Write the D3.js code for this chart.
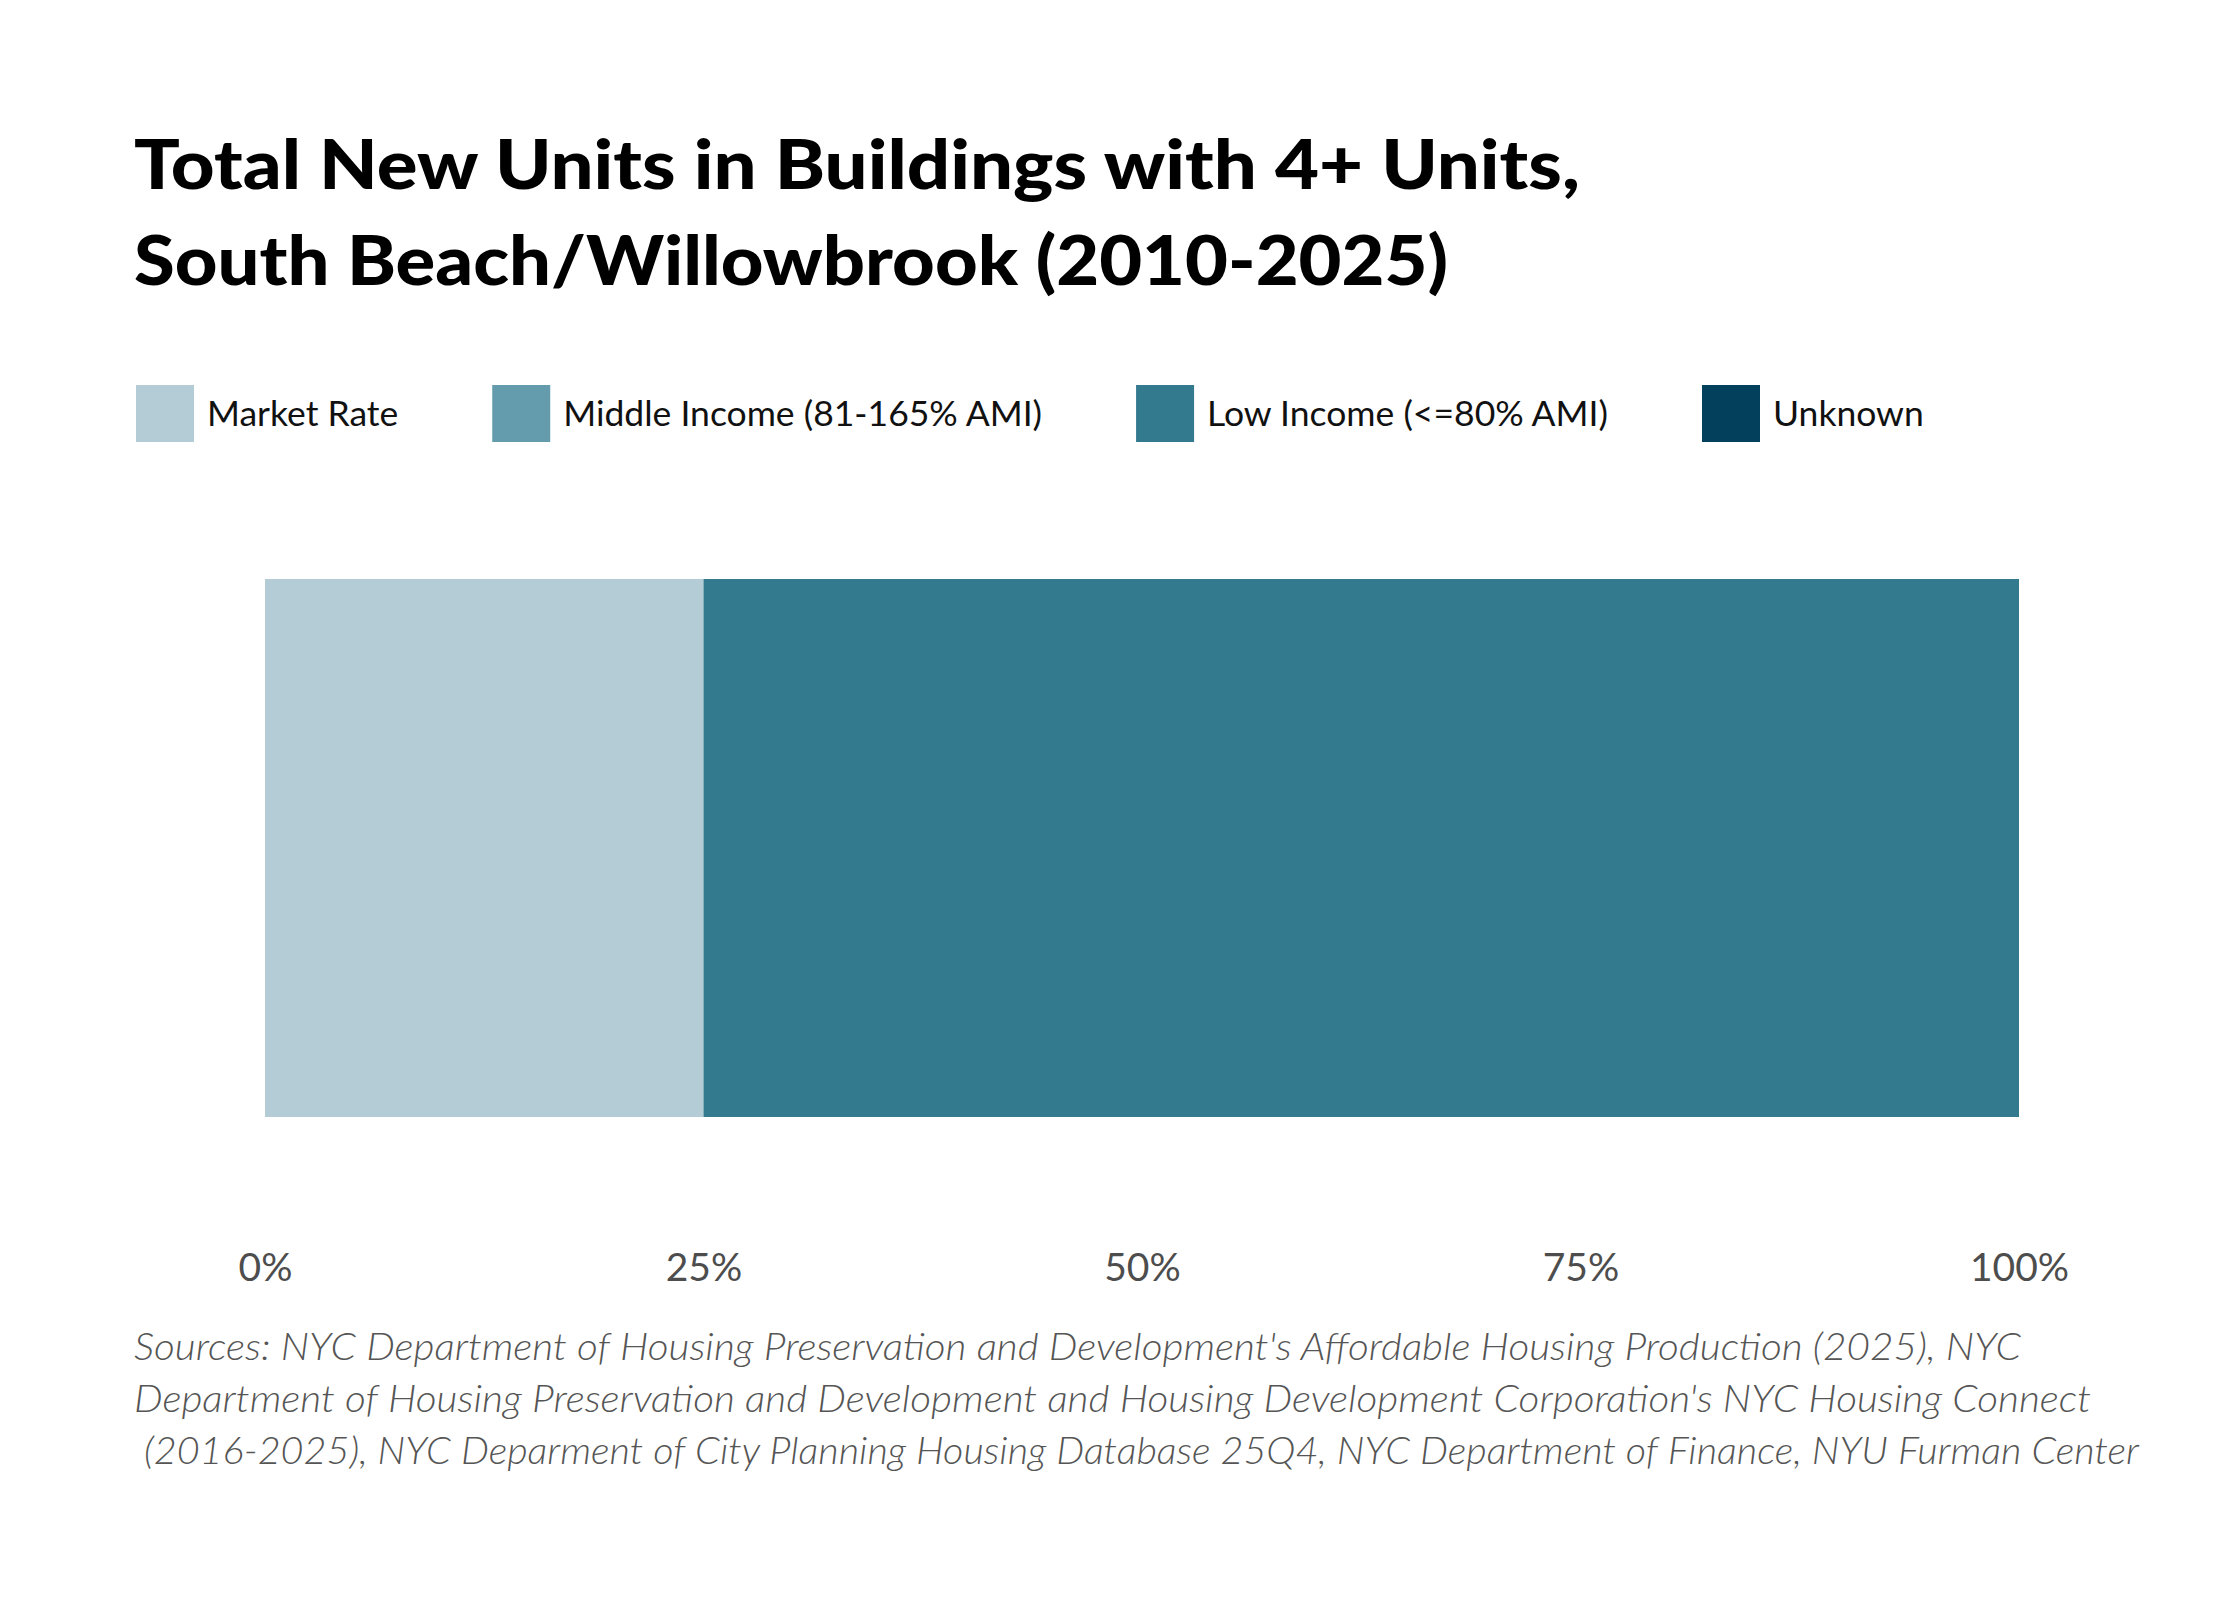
<!DOCTYPE html>
<html>
<head>
<meta charset="utf-8">
<script src="https://cdn.jsdelivr.net/npm/d3@7"></script>
<style>
  body { margin: 0; background: #fff; }
  svg { display: block; }
</style>
</head>
<body>
<div id="chart"></div>
<script>
// data
const categories = ["Market Rate", "Middle Income (81-165% AMI)", "Low Income (<=80% AMI)", "Unknown"];
const shares = [0.25, 0, 0.75, 0];
const colors = ["#b3ccd6", "#659cad", "#347a8f", "#03405c"];
const neighborhood = ["South Beach/Willowbrook"];
const tickValues = [0, 0.25, 0.5, 0.75, 1];
const titleLines = ["Total New Units in Buildings with 4+ Units,", "South Beach/Willowbrook (2010-2025)"];
const sourceLines = [
    "Sources: NYC Department of Housing Preservation and Development's Affordable Housing Production (2025), NYC",
    "Department of Housing Preservation and Development and Housing Development Corporation's NYC Housing Connect",
    " (2016-2025), NYC Deparment of City Planning Housing Database 25Q4, NYC Department of Finance, NYU Furman Center"
];

const W = 2240, H = 1600;
const margin = {top: 579, right: 221, bottom: 483, left: 265};

const svg = d3.select("#chart")
    .append("svg")
    .attr("width", W)
    .attr("height", H);

// title, stretched to the width of the original lines
const titleWidths = [1446, 1314];
svg.append("g").attr("class", "title")
    .selectAll("text")
    .data(titleLines)
    .enter().append("text")
    .attr("x", 134)
    .attr("y", (d, i) => 189 + i * 96)
    .attr("textLength", (d, i) => titleWidths[i])
    .attr("lengthAdjust", "spacingAndGlyphs")
    .style("font-family", "Lato, 'Open Sans', sans-serif")
    .style("font-weight", 900)
    .style("font-size", "68px")
    .style("fill", "#000")
    .text(d => d);

// legend
const legend = svg.append("g").attr("class", "legend").attr("transform", "translate(136,385)");
let lx = 0;
categories.forEach(function (c, i) {
    const item = legend.append("g").attr("transform", "translate(" + lx + ",0)");
    item.append("rect")
        .attr("width", 58)
        .attr("height", 57)
        .style("fill", colors[i]);
    const t = item.append("text")
        .attr("x", 71)
        .attr("y", 41)
        .style("font-family", "Lato, 'Noto Sans', sans-serif")
        .style("font-size", "35.5px")
        .style("fill", "#111")
        .text(c);
    lx += 71 + t.node().getComputedTextLength() + 94;
});

// bar
const x = d3.scaleLinear()
    .domain([0, 1])
    .range([margin.left, W - margin.right]);

const y = d3.scaleBand()
    .domain(neighborhood)
    .range([margin.top, H - margin.bottom])
    .padding(0);

const row = {name: neighborhood[0]};
categories.forEach((c, i) => row[c] = shares[i]);
const stacked = d3.stack().keys(categories)([row]);

svg.append("g").attr("class", "bars")
    .selectAll("rect")
    .data(stacked)
    .enter().append("rect")
    .attr("x", d => x(d[0][0]))
    .attr("y", d => y(d[0].data.name))
    .attr("width", d => x(d[0][1]) - x(d[0][0]))
    .attr("height", y.bandwidth())
    .style("fill", (d, i) => colors[i]);

// x axis
const axis = svg.append("g")
    .attr("class", "axis axis--x")
    .attr("transform", "translate(0,1281)")
    .call(d3.axisBottom(x).tickValues(tickValues).tickSize(0).tickFormat(d3.format(".0%")));
axis.select(".domain").remove();
axis.selectAll("text")
    .attr("y", 0)
    .attr("dy", 0)
    .style("font-family", "Lato, 'Noto Sans', sans-serif")
    .style("font-size", "39px")
    .style("fill", "#4d4d4d");

// sources
const sourceWidths = [1887, 1957, 2005];
svg.append("g").attr("class", "sources")
    .selectAll("text")
    .data(sourceLines)
    .enter().append("text")
    .attr("x", 134)
    .attr("y", (d, i) => 1360 + i * 52)
    .attr("xml:space", "preserve")
    .style("white-space", "pre")
    .style("font-family", "Lato, 'Open Sans', sans-serif")
    .style("font-style", "italic")
    .style("font-weight", 300)
    .style("font-size", "37px")
    .style("fill", "#555")
    .text(d => d)
    .each(function (d, i) {
        const len = this.getComputedTextLength();
        if (Math.abs(len - sourceWidths[i]) > 10)
            d3.select(this).attr("textLength", sourceWidths[i]).attr("lengthAdjust", "spacingAndGlyphs");
    });
</script>
</body>
</html>
